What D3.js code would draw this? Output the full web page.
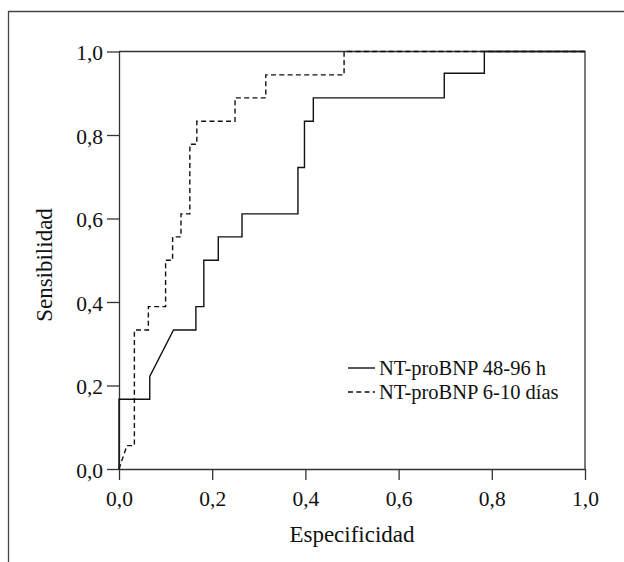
<!DOCTYPE html>
<html>
<head>
<meta charset="utf-8">
<script src="https://cdn.jsdelivr.net/npm/d3@7/dist/d3.min.js"></script>
<style>
  html, body { margin: 0; padding: 0; background: #fff; }
  svg { display: block; }
  text { font-family: "Liberation Serif", "Times New Roman", serif; fill: #111; }
</style>
</head>
<body>
<svg id="chart" width="624" height="562"></svg>
<script>
// ---- Data (1 - especificidad, sensibilidad) ----
const xTicks = [0, 0.2, 0.4, 0.6, 0.8, 1.0];
const yTicks = [0, 0.2, 0.4, 0.6, 0.8, 1.0];

const seriesNames = ["NT-proBNP 48-96 h", "NT-proBNP 6-10 días"];

const fpr48 = [0, 0, 0.066, 0.066, 0.117, 0.165, 0.165, 0.182, 0.182, 0.213, 0.213, 0.264, 0.264, 0.384, 0.384, 0.398, 0.398, 0.417, 0.417, 0.698, 0.698, 0.784, 0.784, 1];
const sens48 = [0, 0.167, 0.167, 0.222, 0.333, 0.333, 0.389, 0.389, 0.5, 0.5, 0.556, 0.556, 0.611, 0.611, 0.722, 0.722, 0.833, 0.833, 0.889, 0.889, 0.948, 0.948, 1, 1];

const fpr610 = [0, 0.017, 0.033, 0.033, 0.063, 0.063, 0.1, 0.1, 0.115, 0.115, 0.133, 0.133, 0.152, 0.152, 0.167, 0.167, 0.249, 0.249, 0.315, 0.315, 0.483, 0.483, 1];
const sens610 = [0, 0.056, 0.056, 0.333, 0.333, 0.389, 0.389, 0.5, 0.5, 0.556, 0.556, 0.611, 0.611, 0.778, 0.778, 0.833, 0.833, 0.889, 0.889, 0.944, 0.944, 1, 1];

// ---- Layout ----
const svg = d3.select("#chart");
const mLeft = 119, mRight = 585, mTop = 51.5, mBottom = 469;

const x = d3.scaleLinear().domain([0, 1]).range([mLeft, mRight]);
const y = d3.scaleLinear().domain([0, 1]).range([mBottom, mTop]);
const fmt = d => d3.format(".1f")(d).replace(".", ",");

// outer border (top and left visible)
svg.append("path")
  .attr("d", "M8.5,562 L8.5,11.5 L624,11.5")
  .attr("fill", "none").attr("stroke", "#444").attr("stroke-width", 1.3);

// axes
const xAxis = svg.append("g").attr("transform", `translate(0,${mBottom})`)
  .call(d3.axisBottom(x).tickValues(xTicks).tickFormat(fmt).tickSize(11).tickSizeOuter(0).tickPadding(6));
const yAxis = svg.append("g").attr("transform", `translate(${mLeft},0)`)
  .call(d3.axisLeft(y).tickValues(yTicks).tickFormat(fmt).tickSize(12).tickSizeOuter(0).tickPadding(4));

[xAxis, yAxis].forEach(g => {
  g.selectAll("path.domain").attr("stroke", "#333").attr("stroke-width", 1.3);
  g.selectAll(".tick line").attr("stroke", "#333").attr("stroke-width", 1.3);
  g.selectAll(".tick text").style("font-family", '"Liberation Serif", serif').style("font-size", "21.5px").attr("fill", "#111");
});
xAxis.selectAll(".tick text").attr("dy", "0.95em");
yAxis.selectAll(".tick text").attr("dy", "0.38em");

// top and right frame
svg.append("path")
  .attr("d", `M${x(0)},${y(1)} L${x(1)},${y(1)} L${x(1)},${y(0)}`)
  .attr("fill", "none").attr("stroke", "#333").attr("stroke-width", 1.3);

// curves
const line = d3.line().x(d => x(d[0])).y(d => y(d[1]));
const s1 = fpr48.map((v, i) => [v, sens48[i]]);
const s2 = fpr610.map((v, i) => [v, sens610[i]]);

svg.append("path").datum(s1).attr("d", line)
  .attr("fill", "none").attr("stroke", "#111").attr("stroke-width", 1.4);
svg.append("path").datum(s2).attr("d", line)
  .attr("fill", "none").attr("stroke", "#111").attr("stroke-width", 1.4)
  .attr("stroke-dasharray", "5,3.3");

// axis titles
svg.append("text").attr("x", (mLeft + mRight) / 2).attr("y", 542)
  .attr("text-anchor", "middle").style("font-size", "23px").text("Especificidad");
svg.append("text").attr("transform", `translate(52,${265}) rotate(-90)`)
  .attr("text-anchor", "middle").style("font-size", "23px").text("Sensibilidad");

// legend
const legendRows = [
  { name: seriesNames[0], dash: null, y: 368 },
  { name: seriesNames[1], dash: "5,3.3", y: 392 }
];
legendRows.forEach(r => {
  svg.append("line").attr("x1", 348).attr("x2", 375).attr("y1", r.y).attr("y2", r.y)
    .attr("stroke", "#111").attr("stroke-width", 1.4)
    .attr("stroke-dasharray", r.dash);
  svg.append("text").attr("x", 379).attr("y", r.y + 6.5)
    .style("font-size", "20.5px").text(r.name);
});
</script>
</body>
</html>
